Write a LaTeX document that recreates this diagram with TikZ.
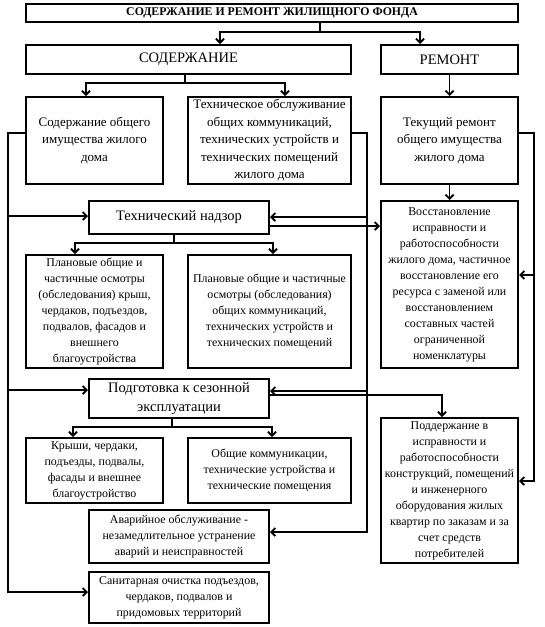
\documentclass[tikz,border=0pt]{standalone}
\usepackage{fontspec}
\setmainfont{Liberation Serif}
\usetikzlibrary{arrows.meta}
\begin{document}
\begin{tikzpicture}[x=1pt,y=-1pt,
  box/.style={draw, line width=2pt, anchor=north west, align=center, inner sep=1pt,
              font=\fontsize{11.9}{16}\selectfont},
  topfont/.style={font=\fontsize{13}{17.5}\selectfont},
  bigfont/.style={font=\fontsize{14.5}{19}\selectfont},
  titlefont/.style={font=\bfseries\fontsize{11.8}{14}\selectfont},
  line/.style={line width=1.9pt},
  arr/.style={line, -{Straight Barb[length=4pt,width=8pt]}},
  arrb/.style={line, {Straight Barb[length=4pt,width=8pt]}-{Straight Barb[length=4pt,width=8pt]}}
]
\useasboundingbox (0,0) rectangle (545,627);

% boxes
\node[box, titlefont, minimum width=492pt, minimum height=18pt] (title) at (25,3) {СОДЕРЖАНИЕ И РЕМОНТ ЖИЛИЩНОГО ФОНДА};
\node[box, bigfont, minimum width=325pt, minimum height=29pt] (sod) at (25,44) {СОДЕРЖАНИЕ};
\node[box, bigfont, minimum width=137pt, minimum height=29pt] (rem) at (380,44) {РЕМОНТ};
\node[box, topfont, minimum width=137pt, minimum height=87pt] (sodob) at (25,96) {Содержание общего\\имущества жилого\\дома};
\node[box, topfont, minimum width=163pt, minimum height=87pt] (tehobs) at (187,96) {Техническое обслуживание\\общих коммуникаций,\\технических устройств и\\технических помещений\\жилого дома};
\node[box, topfont, minimum width=137pt, minimum height=87pt] (tek) at (380,96) {Текущий ремонт\\общего имущества\\жилого дома};
\node[box, bigfont, minimum width=180pt, minimum height=33pt] (nadzor) at (88,200) {Технический надзор};
\node[box, minimum width=137pt, minimum height=167pt] (vosst) at (380,200) {Восстановление\\исправности и\\работоспособности\\жилого дома, частичное\\восстановление его\\ресурса с заменой или\\восстановлением\\составных частей\\ограниченной\\номенклатуры};
\node[box, minimum width=137pt, minimum height=113pt] (plan1) at (25,254) {Плановые общие и\\частичные осмотры\\(обследования) крыш,\\чердаков, подъездов,\\подвалов, фасадов и\\внешнего\\благоустройства};
\node[box, minimum width=163pt, minimum height=113pt] (plan2) at (187,254) {Плановые общие и частичные\\осмотры (обследования)\\общих коммуникаций,\\технических устройств и\\технических помещений};
\node[box, bigfont, minimum width=180pt, minimum height=39pt] (podg) at (88,378) {Подготовка к сезонной\\эксплуатации};
\node[box, minimum width=137pt, minimum height=145pt] (podd) at (380,417) {Поддержание в\\исправности и\\работоспособности\\конструкций, помещений\\и инженерного\\оборудования жилых\\квартир по заказам и за\\счет средств\\потребителей};
\node[box, minimum width=137pt, minimum height=65pt] (krysh) at (25,437) {Крыши, чердаки,\\подъезды, подвалы,\\фасады и внешнее\\благоустройство};
\node[box, minimum width=163pt, minimum height=65pt] (obsh) at (187,437) {Общие коммуникации,\\технические устройства и\\технические помещения};
\node[box, minimum width=180pt, minimum height=53pt] (avar) at (88,509) {Аварийное обслуживание -\\незамедлительное устранение\\аварий и неисправностей};
\node[box, minimum width=180pt, minimum height=51pt] (sanit) at (88,571) {Санитарная очистка подъездов,\\чердаков, подвалов и\\придомовых территорий};

% junction coordinates
\coordinate (t1) at (320,32); \coordinate (ta) at (220,32); \coordinate (tb) at (420,32);
\coordinate (s1) at (185,83); \coordinate (sa) at (86,83);  \coordinate (sb) at (285,83);
\coordinate (n1) at (174,243); \coordinate (na) at (75,243); \coordinate (nb) at (273,243);
\coordinate (p1) at (172,427); \coordinate (pa) at (73,427); \coordinate (pb) at (272,427);
\coordinate (lb1) at (8,133); \coordinate (lbn) at (8,216); \coordinate (lbp) at (8,390); \coordinate (lb2) at (8,592);
\coordinate (rb1) at (367,133); \coordinate (rbn) at (367,217); \coordinate (rbp) at (367,391); \coordinate (rb2) at (367,532);
\coordinate (nv) at (320,226);
\coordinate (pp) at (442,395);
\coordinate (tb1) at (534,133); \coordinate (tbv) at (534,275); \coordinate (tb2) at (534,481);

% title split
\draw[line] (title.south -| t1) -- (t1);
\draw[arrb] (ta |- sod.north) -- (ta) -- (tb) -- (tb |- rem.north);
% sod split
\draw[line] (sod.south -| s1) -- (s1);
\draw[arrb] (sa |- sodob.north) -- (sa) -- (sb) -- (sb |- tehobs.north);
% repair chain
\draw[arr] (rem.south) -- (tek.north);
\draw[arr] (tek.south) -- (vosst.north);
% left bus
\draw[arr] (lb1 -| sodob.west) -- (lb1) -- (lb2) -- (lb2 -| sanit.west);
\draw[arr] (lbn) -- (lbn -| nadzor.west);
\draw[arr] (lbp) -- (lbp -| podg.west);
% right bus (tech maintenance)
\draw[arr] (rb1 -| tehobs.east) -- (rb1) -- (rb2) -- (rb2 -| avar.east);
\draw[arr] (rbn) -- (rbn -| nadzor.east);
\draw[arr] (rbp) -- (rbp -| podg.east);
% nadzor -> vosst
\draw[arr] (nv -| nadzor.east) -- (nv -| vosst.west);
% nadzor split
\draw[line] (nadzor.south -| n1) -- (n1);
\draw[arrb] (na |- plan1.north) -- (na) -- (nb) -- (nb |- plan2.north);
% podg split
\draw[line] (podg.south -| p1) -- (p1);
\draw[arrb] (pa |- krysh.north) -- (pa) -- (pb) -- (pb |- obsh.north);
% podg -> podd
\draw[arr] (pp -| podg.east) -- (pp) -- (pp |- podd.north);
% tek right bus
\draw[arr] (tb1 -| tek.east) -- (tb1) -- (tb2) -- (tb2 -| podd.east);
\draw[arr] (tbv) -- (tbv -| vosst.east);
\end{tikzpicture}
\end{document}
